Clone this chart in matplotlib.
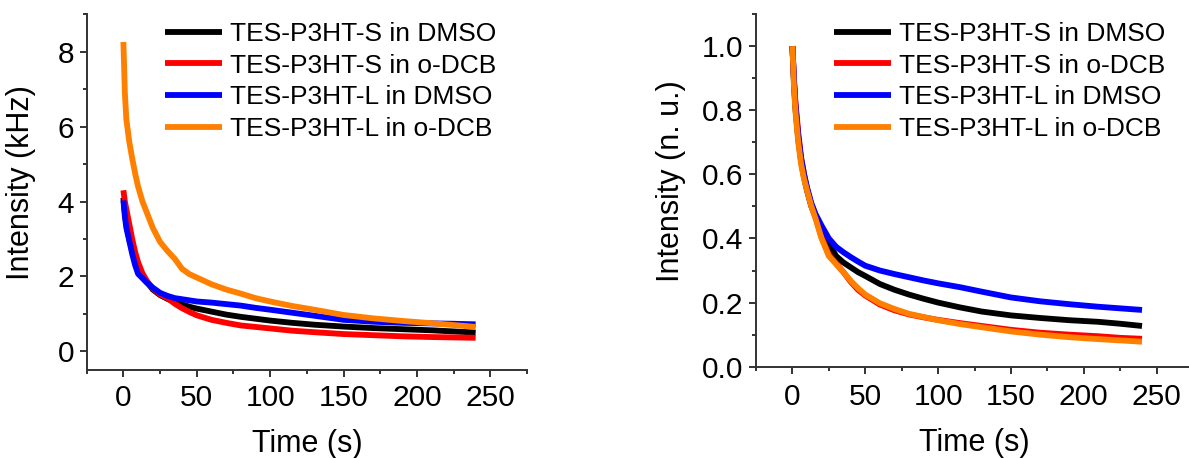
import matplotlib
matplotlib.use('Agg')
import matplotlib.pyplot as plt
from matplotlib.ticker import MultipleLocator

plt.rcParams['font.family'] = ['Liberation Sans', 'DejaVu Sans']

time = [0, 1, 2, 4, 6, 8, 10, 13, 16, 20, 25, 30, 35, 40, 45, 50, 60, 70,
        80, 90, 100, 115, 130, 150, 170, 190, 210, 225, 240]

labels = ['TES-P3HT-S in DMSO', 'TES-P3HT-S in o-DCB',
          'TES-P3HT-L in DMSO', 'TES-P3HT-L in o-DCB']
colors = ['black', '#ff0000', '#0000ff', '#ff8000']

# left panel, raw intensity (kHz)
khz_s_dmso = [4.1, 3.7, 3.4, 3.0, 2.7, 2.45, 2.2, 2.0, 1.85, 1.65, 1.5, 1.4, 1.32, 1.25,
              1.19, 1.14, 1.06, 0.98, 0.92, 0.87, 0.82, 0.76, 0.71, 0.66, 0.62, 0.59,
              0.56, 0.53, 0.5]
khz_s_odcb = [4.3, 4.0, 3.8, 3.4, 3.0, 2.65, 2.38, 2.08, 1.88, 1.68, 1.52, 1.42, 1.27,
              1.15, 1.05, 0.96, 0.84, 0.76, 0.69, 0.65, 0.61, 0.55, 0.51, 0.46, 0.43,
              0.4, 0.38, 0.37, 0.36]
khz_l_dmso = [4.03, 3.6, 3.3, 2.95, 2.6, 2.3, 2.07, 1.95, 1.83, 1.7, 1.56, 1.48, 1.42,
              1.39, 1.36, 1.33, 1.3, 1.26, 1.22, 1.16, 1.11, 1.03, 0.95, 0.84, 0.79,
              0.76, 0.745, 0.735, 0.72]
khz_l_odcb = [8.26, 6.9, 6.2, 5.6, 5.15, 4.75, 4.4, 4.0, 3.7, 3.3, 2.92, 2.68, 2.47,
              2.2, 2.06, 1.97, 1.79, 1.65, 1.54, 1.42, 1.33, 1.21, 1.11, 0.97, 0.88,
              0.81, 0.75, 0.7, 0.65]

# right panel, normalised intensity
nu_s_dmso = [1.0, 0.89, 0.81, 0.71, 0.64, 0.59, 0.55, 0.5, 0.465, 0.425, 0.385, 0.345,
             0.325, 0.31, 0.295, 0.283, 0.258, 0.24, 0.225, 0.212, 0.2, 0.185, 0.172,
             0.16, 0.152, 0.145, 0.14, 0.134, 0.127]
nu_s_odcb = [1.0, 0.9, 0.83, 0.73, 0.65, 0.6, 0.555, 0.505, 0.465, 0.405, 0.35, 0.322,
             0.295, 0.265, 0.24, 0.222, 0.194, 0.176, 0.163, 0.154, 0.146, 0.136, 0.127,
             0.115, 0.106, 0.1, 0.095, 0.09, 0.087]
nu_l_dmso = [1.0, 0.9, 0.82, 0.72, 0.65, 0.6, 0.56, 0.51, 0.475, 0.44, 0.4, 0.374,
             0.357, 0.342, 0.328, 0.315, 0.3, 0.289, 0.279, 0.269, 0.26, 0.248, 0.234,
             0.216, 0.204, 0.195, 0.187, 0.182, 0.177]
nu_l_odcb = [1.0, 0.88, 0.8, 0.7, 0.63, 0.585, 0.55, 0.5, 0.46, 0.4, 0.345, 0.32, 0.295,
             0.268, 0.245, 0.225, 0.198, 0.18, 0.165, 0.155, 0.145, 0.133, 0.123, 0.11,
             0.1, 0.092, 0.086, 0.082, 0.078]

W, H = 1189, 458
fig = plt.figure(figsize=(W / 100, H / 100), dpi=100)
ax1 = fig.add_axes([86.7 / W, 1 - 370 / H, 440.3 / W, 355.7 / H])
ax2 = fig.add_axes([756 / W, 1 - 366.7 / H, 437 / W, 352.7 / H])


def style(ax, ylabel, xpad):
    for s in ['top', 'right']:
        ax.spines[s].set_visible(False)
    for s in ['left', 'bottom']:
        ax.spines[s].set_linewidth(1.4)
        ax.spines[s].set_color('#333333')
    ax.set_xlim(-25, 275)
    ax.xaxis.set_major_locator(MultipleLocator(50))
    ax.xaxis.set_minor_locator(MultipleLocator(25))
    ax.tick_params(which='both', direction='out', color='#333333', width=1.4,
                   labelsize=21.5)
    ax.tick_params(which='major', length=5)
    ax.tick_params(which='minor', length=3)
    ax.tick_params(axis='x', pad=xpad)
    ax.tick_params(axis='y', pad=4)
    ax.set_xlabel('Time (s)', fontsize=22, labelpad=12)
    ax.set_ylabel(ylabel, fontsize=22)


panels = [
    (ax1, [khz_s_dmso, khz_s_odcb, khz_l_dmso, khz_l_odcb], 165),
    (ax2, [nu_s_dmso, nu_s_odcb, nu_l_dmso, nu_l_odcb], 834),
]
for ax, series, leg_x in panels:
    for vals, c, lab in zip(series, colors, labels):
        ax.plot(time, vals, color=c, lw=4.2, label=lab, solid_capstyle='butt')
    ax.legend(loc='upper left', bbox_to_anchor=(leg_x / W, 1 - 22 / H),
              bbox_transform=fig.transFigure, frameon=False, fontsize=19,
              handlelength=2.15, handletextpad=0.33, labelspacing=0.29,
              borderpad=0, borderaxespad=0)

style(ax1, 'Intensity (kHz)', 5)
ax1.set_ylim(-0.5, 9)
ax1.yaxis.set_major_locator(MultipleLocator(2))
ax1.yaxis.set_minor_locator(MultipleLocator(1))
ax1.yaxis.set_label_coords(-0.115, 0.527)

style(ax2, 'Intensity (n. u.)', 7)
ax2.set_ylim(0, 1.1)
ax2.yaxis.set_major_locator(MultipleLocator(0.2))
ax2.yaxis.set_minor_locator(MultipleLocator(0.1))
ax2.yaxis.set_label_coords(-0.161, 0.527)

fig.savefig('out.png', dpi=100)
